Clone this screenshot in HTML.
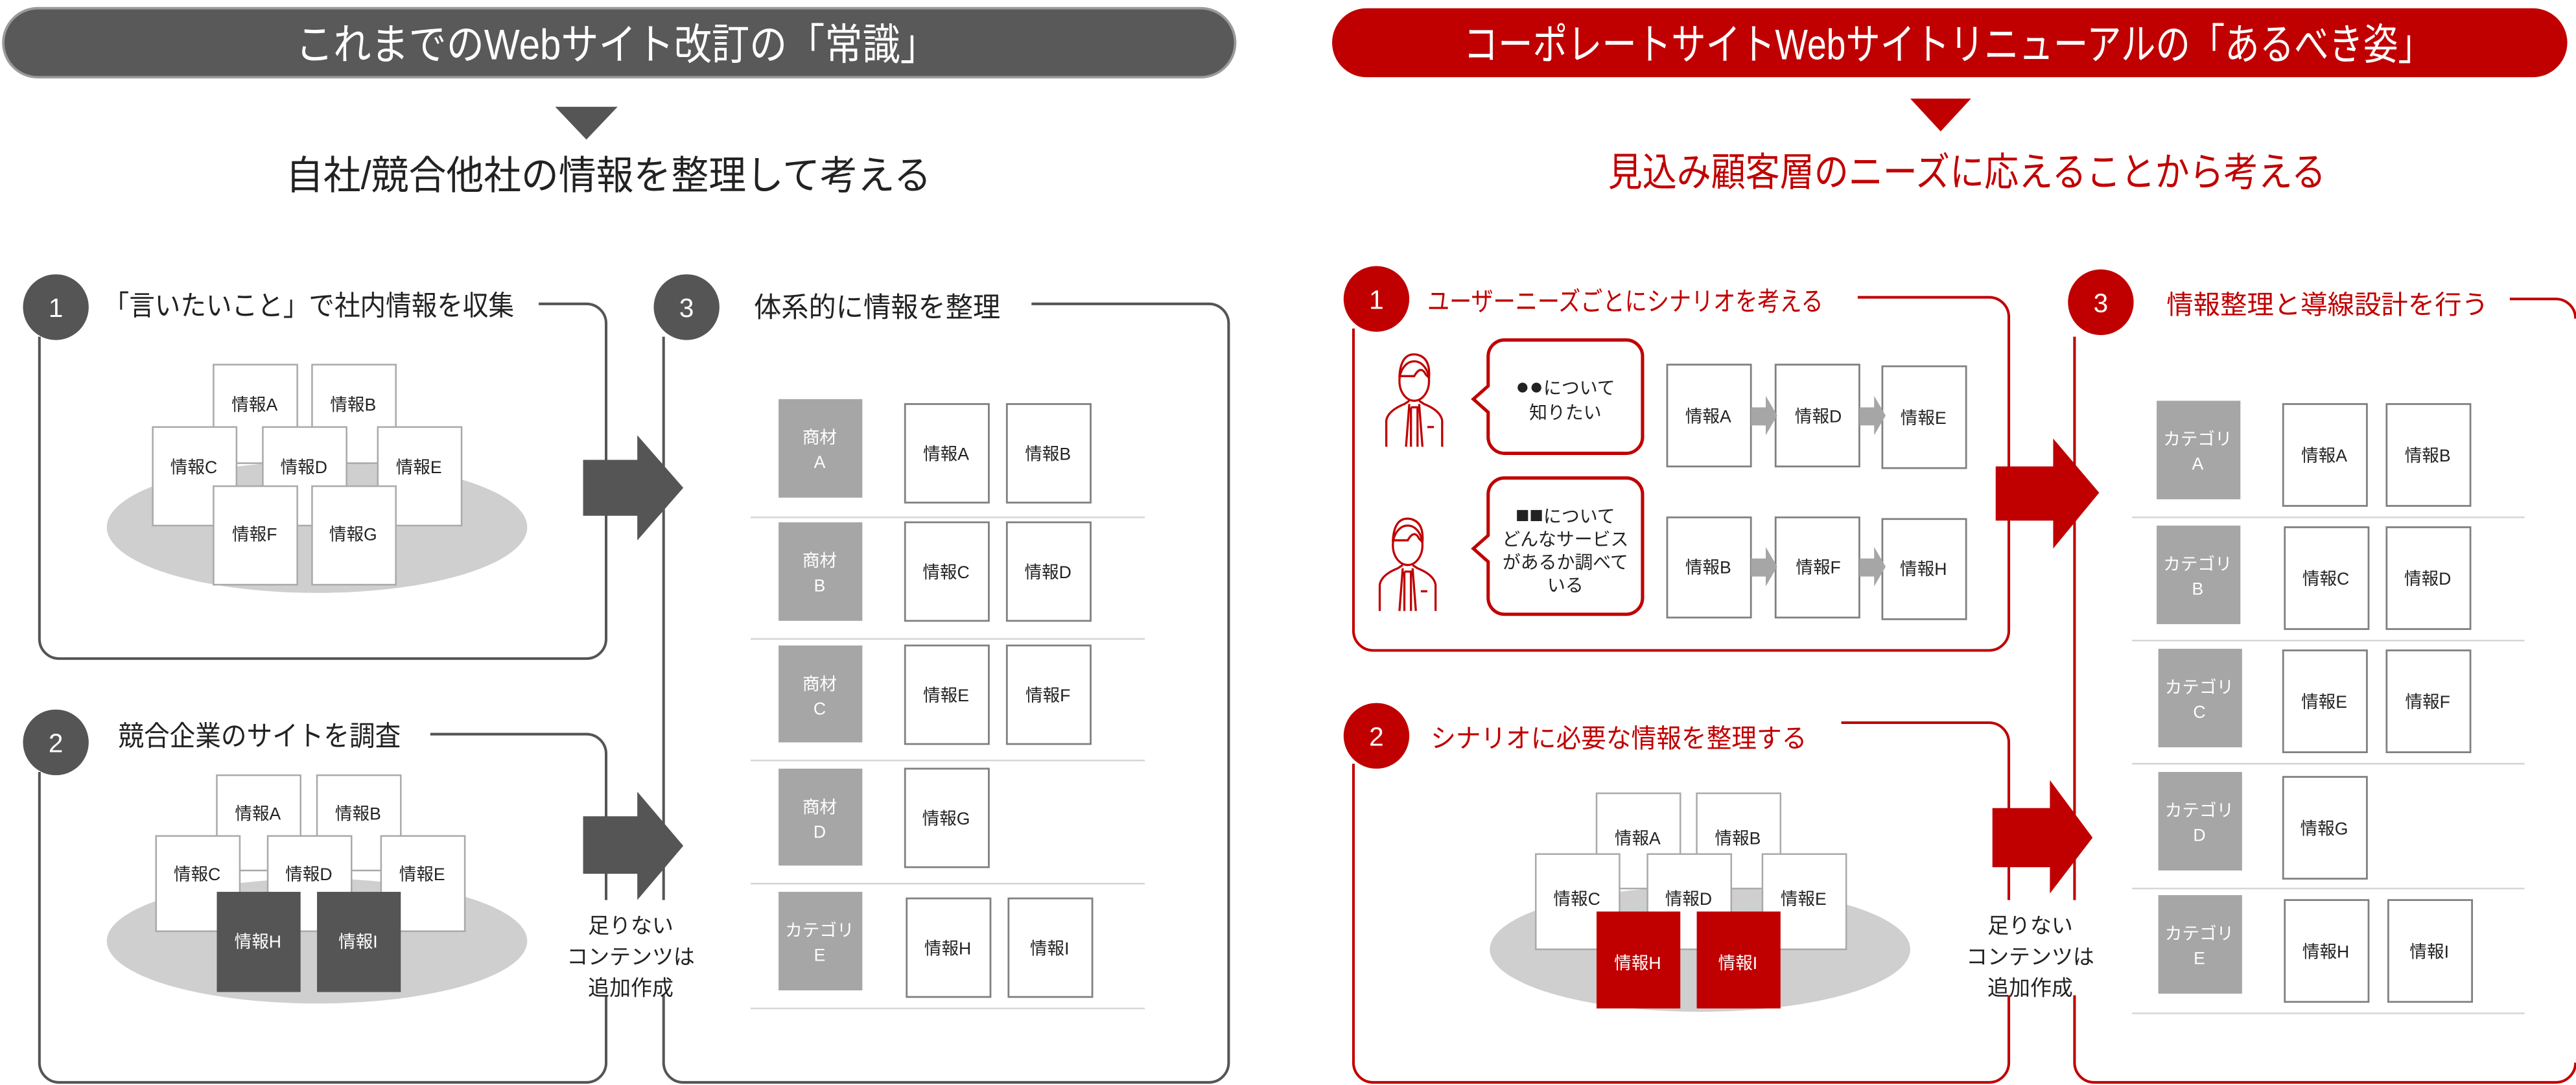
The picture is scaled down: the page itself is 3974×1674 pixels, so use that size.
<!DOCTYPE html>
<html><head><meta charset="utf-8"><style>
html,body{margin:0;padding:0;background:#fff;width:3974px;height:1674px;overflow:hidden}
svg{display:block}
text{font-family:"Liberation Sans","Noto Sans CJK JP",sans-serif}
</style></head><body>
<svg width="3974" height="1674" viewBox="0 0 1568.3 660.6" xmlns="http://www.w3.org/2000/svg">
<defs>
<g id="man" fill="none" stroke="#c00000" stroke-width="1.3">
<ellipse cx="18" cy="22" rx="9" ry="12"/>
<path d="M9 19 Q10 4 20 6 Q28 8 27 20 L25 18 Q22 12 18 19 Z"/>
<path d="M1 62 L1 46 Q2 40 12 36 L15 34 M35 62 L35 46 Q34 40 24 36 L21 34"/>
<path d="M15 36 L13 62 M21 36 L23 62 M16 38 L20 38 L20 62 M16 38 L16 62"/>
<path d="M26 50 L30 50"/>
</g>
</defs>

<!-- LEFT -->
<rect x="2" y="5" width="750" height="42" rx="21" fill="#595959" stroke="#9a9a9a" stroke-width="1.5"/>
<text x="180" y="36" font-size="26" fill="#fff" textLength="391" lengthAdjust="spacingAndGlyphs">これまでのWebサイト改訂の「常識」</text>
<polygon points="338,65 376,65 357,85" fill="#555"/>
<text x="174" y="115" font-size="24" fill="#222" textLength="393" lengthAdjust="spacingAndGlyphs">自社/競合他社の情報を整理して考える</text>

<!-- box1 -->
<path d="M328 185 L357 185 A12 12 0 0 1 369 197 L369 389 A12 12 0 0 1 357 401 L36 401 A12 12 0 0 1 24 389 L24 205" fill="none" stroke="#555" stroke-width="1.6"/>
<circle cx="34" cy="187" r="20" fill="#555"/>
<text x="34" y="193" font-size="16" fill="#fff" text-anchor="middle">1</text>
<text x="63" y="192" font-size="17" fill="#222" textLength="250" lengthAdjust="spacingAndGlyphs">「言いたいこと」で社内情報を収集</text>
<ellipse cx="193" cy="321" rx="128" ry="40" fill="#cfcfcf"/>
<g stroke="#aaa" stroke-width="1" fill="#fff">
<rect x="130" y="222" width="51" height="60"/><rect x="190" y="222" width="51" height="60"/>
<rect x="93" y="260" width="51" height="60"/><rect x="160" y="260" width="51" height="60"/><rect x="230" y="260" width="51" height="60"/>
<rect x="130" y="296" width="51" height="60"/><rect x="190" y="296" width="51" height="60"/>
</g>
<g font-size="10.5" fill="#222" text-anchor="middle">
<text x="155" y="250">情報A</text><text x="215" y="250">情報B</text>
<text x="118" y="288">情報C</text><text x="185" y="288">情報D</text><text x="255" y="288">情報E</text>
<text x="155" y="329">情報F</text><text x="215" y="329">情報G</text>
</g>

<!-- box2 -->
<path d="M262 447 L357 447 A12 12 0 0 1 369 459 L369 647 A12 12 0 0 1 357 659 L36 659 A12 12 0 0 1 24 647 L24 470" fill="none" stroke="#555" stroke-width="1.6"/>
<circle cx="34" cy="452" r="20" fill="#555"/>
<text x="34" y="458" font-size="16" fill="#fff" text-anchor="middle">2</text>
<text x="72" y="454" font-size="17" fill="#222" textLength="172" lengthAdjust="spacingAndGlyphs">競合企業のサイトを調査</text>
<ellipse cx="193" cy="573" rx="128" ry="38" fill="#cfcfcf"/>
<g stroke="#aaa" stroke-width="1" fill="#fff">
<rect x="132" y="472" width="51" height="58"/><rect x="193" y="472" width="51" height="58"/>
<rect x="95" y="509" width="51" height="58"/><rect x="163" y="509" width="51" height="58"/><rect x="232" y="509" width="51" height="58"/>
</g>
<rect x="132" y="543" width="51" height="61" fill="#555"/><rect x="193" y="543" width="51" height="61" fill="#555"/>
<g font-size="10.5" fill="#222" text-anchor="middle">
<text x="157" y="499">情報A</text><text x="218" y="499">情報B</text>
<text x="120" y="536">情報C</text><text x="188" y="536">情報D</text><text x="257" y="536">情報E</text>
</g>
<g font-size="10.5" fill="#fff" text-anchor="middle"><text x="157" y="577">情報H</text><text x="218" y="577">情報I</text></g>

<!-- arrows left -->
<path d="M355 280 L388 280 L388 265 L416 297 L388 329 L388 314 L355 314 Z" fill="#555"/>
<path d="M355 497 L388 497 L388 482 L416 515 L388 548 L388 532 L355 532 Z" fill="#555"/>

<!-- box3 left -->
<path d="M628 185 L736 185 A12 12 0 0 1 748 197 L748 647 A12 12 0 0 1 736 659 L416 659 A12 12 0 0 1 404 647 L404 205" fill="none" stroke="#555" stroke-width="1.6"/>
<circle cx="418" cy="187" r="20" fill="#555"/>
<text x="418" y="193" font-size="16" fill="#fff" text-anchor="middle">3</text>
<text x="459" y="193" font-size="17" fill="#222" textLength="150" lengthAdjust="spacingAndGlyphs">体系的に情報を整理</text>
<rect x="357" y="548" width="52" height="58" fill="#fff"/>
<g font-size="13" fill="#222" text-anchor="middle"><text x="384" y="568">足りない</text><text x="384" y="587">コンテンツは</text><text x="384" y="606">追加作成</text></g>

<g stroke="#d6d6d6" stroke-width="1">
<line x1="457" y1="315" x2="697" y2="315"/><line x1="457" y1="389" x2="697" y2="389"/><line x1="457" y1="463" x2="697" y2="463"/><line x1="457" y1="538" x2="697" y2="538"/><line x1="457" y1="614" x2="697" y2="614"/>
</g>
<g fill="#a6a6a6">
<rect x="474" y="243" width="51" height="60"/><rect x="474" y="318" width="51" height="60"/><rect x="474" y="393" width="51" height="59"/><rect x="474" y="468" width="51" height="59"/><rect x="474" y="543" width="51" height="60"/>
</g>
<g fill="#fff" stroke="#808080" stroke-width="1.1">
<rect x="551" y="246" width="51" height="60"/><rect x="613" y="246" width="51" height="60"/>
<rect x="551" y="318" width="51" height="60"/><rect x="613" y="318" width="51" height="60"/>
<rect x="551" y="393" width="51" height="60"/><rect x="613" y="393" width="51" height="60"/>
<rect x="551" y="468" width="51" height="60"/>
<rect x="552" y="547" width="51" height="60"/><rect x="614" y="547" width="51" height="60"/>
</g>
<g font-size="10.5" fill="#fff" text-anchor="middle">
<text x="499" y="270">商材</text><text x="499" y="285">A</text>
<text x="499" y="345">商材</text><text x="499" y="360">B</text>
<text x="499" y="420">商材</text><text x="499" y="435">C</text>
<text x="499" y="495">商材</text><text x="499" y="510">D</text>
<text x="499" y="570">カテゴリ</text><text x="499" y="585">E</text>
</g>
<g font-size="10.5" fill="#222" text-anchor="middle">
<text x="576" y="280">情報A</text><text x="638" y="280">情報B</text>
<text x="576" y="352">情報C</text><text x="638" y="352">情報D</text>
<text x="576" y="427">情報E</text><text x="638" y="427">情報F</text>
<text x="576" y="502">情報G</text>
<text x="577" y="581">情報H</text><text x="639" y="581">情報I</text>
</g>

<!-- RIGHT -->
<rect x="811" y="5" width="752" height="42" rx="21" fill="#c00000"/>
<text x="891" y="36" font-size="26" fill="#fff" textLength="590" lengthAdjust="spacingAndGlyphs">コーポレートサイトWebサイトリニューアルの「あるべき姿」</text>
<polygon points="1163,60 1200,60 1181.5,80" fill="#c00000"/>
<text x="979" y="113" font-size="24" fill="#c00000" textLength="437" lengthAdjust="spacingAndGlyphs">見込み顧客層のニーズに応えることから考える</text>

<!-- r box1 -->
<path d="M1131 181 L1211 181 A12 12 0 0 1 1223 193 L1223 384 A12 12 0 0 1 1211 396 L836 396 A12 12 0 0 1 824 384 L824 200" fill="none" stroke="#c00000" stroke-width="1.6"/>
<circle cx="838" cy="182" r="20" fill="#c00000"/>
<text x="838" y="188" font-size="16" fill="#fff" text-anchor="middle">1</text>
<text x="869" y="189" font-size="16" fill="#c00000" textLength="241" lengthAdjust="spacingAndGlyphs">ユーザーニーズごとにシナリオを考える</text>
<use href="#man" x="843" y="210"/>
<use href="#man" x="839" y="310"/>
<path d="M916 207 L990 207 A10 10 0 0 1 1000 217 L1000 266 A10 10 0 0 1 990 276 L916 276 A10 10 0 0 1 906 266 L906 251 L897 243 L906 235 L906 217 A10 10 0 0 1 916 207 Z" fill="#fff" stroke="#c00000" stroke-width="2"/>
<path d="M916 291 L990 291 A10 10 0 0 1 1000 301 L1000 364 A10 10 0 0 1 990 374 L916 374 A10 10 0 0 1 906 364 L906 342 L897 334 L906 326 L906 301 A10 10 0 0 1 916 291 Z" fill="#fff" stroke="#c00000" stroke-width="2"/>
<g font-size="11" fill="#222" text-anchor="middle">
<text x="953" y="240"><tspan font-size="14">●●</tspan>について</text><text x="953" y="255">知りたい</text>
<text x="953" y="318"><tspan font-size="14">■■</tspan>について</text><text x="953" y="332">どんなサービス</text><text x="953" y="346">があるか調べて</text><text x="953" y="360">いる</text>
</g>
<g fill="#fff" stroke="#808080" stroke-width="1.1">
<rect x="1015" y="222" width="51" height="62"/><rect x="1081" y="222" width="51" height="62"/><rect x="1146" y="223" width="51" height="62"/>
<rect x="1015" y="315" width="51" height="61"/><rect x="1081" y="315" width="51" height="61"/><rect x="1146" y="316" width="51" height="61"/>
</g>
<g fill="#a6a6a6">
<path d="M1066 248 L1075 248 L1075 241 L1082 253 L1075 265 L1075 259 L1066 259 Z"/>
<path d="M1132 248 L1141 248 L1141 241 L1148 253 L1141 265 L1141 259 L1132 259 Z"/>
<path d="M1066 340 L1075 340 L1075 333 L1082 345 L1075 357 L1075 351 L1066 351 Z"/>
<path d="M1132 340 L1141 340 L1141 333 L1148 345 L1141 357 L1141 351 L1132 351 Z"/>
</g>
<g font-size="10.5" fill="#222" text-anchor="middle">
<text x="1040" y="257">情報A</text><text x="1107" y="257">情報D</text><text x="1171" y="258">情報E</text>
<text x="1040" y="349">情報B</text><text x="1107" y="349">情報F</text><text x="1171" y="350">情報H</text>
</g>

<!-- r box2 -->
<path d="M1121 440 L1211 440 A12 12 0 0 1 1223 452 L1223 647 A12 12 0 0 1 1211 659 L836 659 A12 12 0 0 1 824 647 L824 465" fill="none" stroke="#c00000" stroke-width="1.6"/>
<circle cx="838" cy="448" r="20" fill="#c00000"/>
<text x="838" y="454" font-size="16" fill="#fff" text-anchor="middle">2</text>
<text x="871" y="455" font-size="16" fill="#c00000" textLength="229" lengthAdjust="spacingAndGlyphs">シナリオに必要な情報を整理する</text>
<ellipse cx="1035" cy="578" rx="128" ry="38" fill="#cfcfcf"/>
<g stroke="#aaa" stroke-width="1" fill="#fff">
<rect x="972" y="483" width="51" height="58"/><rect x="1033" y="483" width="51" height="58"/>
<rect x="935" y="520" width="51" height="58"/><rect x="1003" y="520" width="51" height="58"/><rect x="1073" y="520" width="51" height="58"/>
</g>
<rect x="972" y="555" width="51" height="59" fill="#c00000"/><rect x="1033" y="555" width="51" height="59" fill="#c00000"/>
<g font-size="10.5" fill="#222" text-anchor="middle">
<text x="997" y="514">情報A</text><text x="1058" y="514">情報B</text>
<text x="960" y="551">情報C</text><text x="1028" y="551">情報D</text><text x="1098" y="551">情報E</text>
</g>
<g font-size="10.5" fill="#fff" text-anchor="middle"><text x="997" y="590">情報H</text><text x="1058" y="590">情報I</text></g>

<!-- r arrows -->
<path d="M1215 284 L1250 284 L1250 267 L1278 300 L1250 334 L1250 317 L1215 317 Z" fill="#c00000"/>
<path d="M1213 492 L1248 492 L1248 475 L1274 510 L1248 544 L1248 528 L1213 528 Z" fill="#c00000"/>

<!-- r box3 -->
<path d="M1528 182 L1556 182 A12 12 0 0 1 1568 194 M1568 647 A12 12 0 0 1 1556 659 L1275 659 A12 12 0 0 1 1263 647 L1263 205" fill="none" stroke="#c00000" stroke-width="1.6"/>
<rect x="1207" y="548" width="60" height="58" fill="#fff"/>
<g font-size="13" fill="#222" text-anchor="middle"><text x="1236" y="568">足りない</text><text x="1236" y="587">コンテンツは</text><text x="1236" y="606">追加作成</text></g>
<circle cx="1279" cy="184" r="20" fill="#c00000"/>
<text x="1279" y="190" font-size="16" fill="#fff" text-anchor="middle">3</text>
<text x="1319" y="191" font-size="16" fill="#c00000" textLength="196" lengthAdjust="spacingAndGlyphs">情報整理と導線設計を行う</text>

<g stroke="#d6d6d6" stroke-width="1">
<line x1="1298" y1="315" x2="1537" y2="315"/><line x1="1298" y1="390" x2="1537" y2="390"/><line x1="1298" y1="465" x2="1537" y2="465"/><line x1="1298" y1="541" x2="1537" y2="541"/><line x1="1298" y1="617" x2="1537" y2="617"/>
</g>
<g fill="#a6a6a6">
<rect x="1313" y="244" width="51" height="60"/><rect x="1313" y="320" width="51" height="60"/><rect x="1314" y="395" width="51" height="60"/><rect x="1314" y="470" width="51" height="60"/><rect x="1314" y="545" width="51" height="60"/>
</g>
<g fill="#fff" stroke="#808080" stroke-width="1.1">
<rect x="1390" y="246" width="51" height="62"/><rect x="1453" y="246" width="51" height="62"/>
<rect x="1391" y="321" width="51" height="62"/><rect x="1453" y="321" width="51" height="62"/>
<rect x="1390" y="396" width="51" height="62"/><rect x="1453" y="396" width="51" height="62"/>
<rect x="1390" y="473" width="51" height="62"/>
<rect x="1391" y="548" width="51" height="62"/><rect x="1454" y="548" width="51" height="62"/>
</g>
<g font-size="10.5" fill="#fff" text-anchor="middle">
<text x="1338" y="271">カテゴリ</text><text x="1338" y="286">A</text>
<text x="1338" y="347">カテゴリ</text><text x="1338" y="362">B</text>
<text x="1339" y="422">カテゴリ</text><text x="1339" y="437">C</text>
<text x="1339" y="497">カテゴリ</text><text x="1339" y="512">D</text>
<text x="1339" y="572">カテゴリ</text><text x="1339" y="587">E</text>
</g>
<g font-size="10.5" fill="#222" text-anchor="middle">
<text x="1415" y="281">情報A</text><text x="1478" y="281">情報B</text>
<text x="1416" y="356">情報C</text><text x="1478" y="356">情報D</text>
<text x="1415" y="431">情報E</text><text x="1478" y="431">情報F</text>
<text x="1415" y="508">情報G</text>
<text x="1416" y="583">情報H</text><text x="1479" y="583">情報I</text>
</g>
</svg>
</body></html>
